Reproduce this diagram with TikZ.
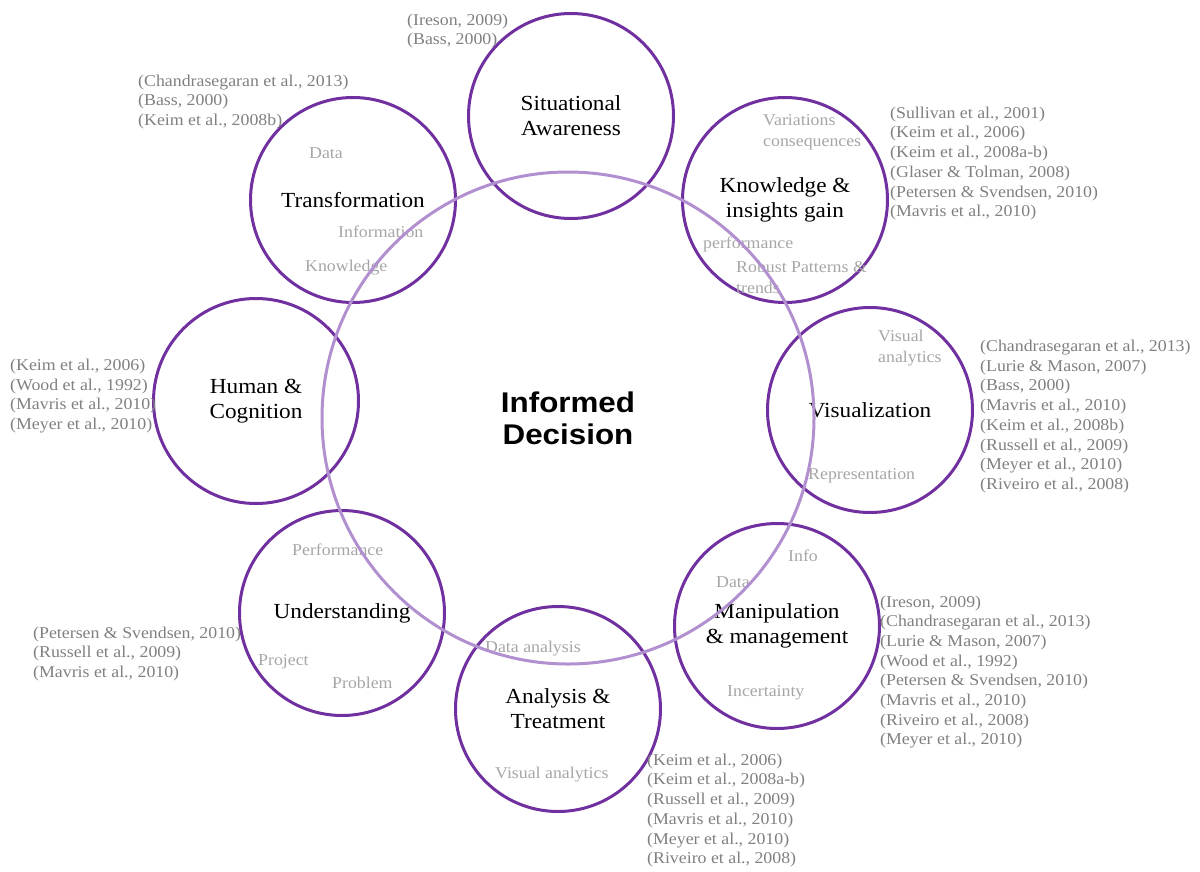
\documentclass[tikz,border=0pt]{standalone}
\usepackage{fontspec}
\setmainfont{Liberation Serif}[FakeStretch=1.08]
\newfontfamily\heavysans{Liberation Sans}[FakeStretch=1.1]
\definecolor{dpurple}{RGB}{112,48,160}
\definecolor{lpurple}{RGB}{178,144,208}
\definecolor{citegray}{RGB}{128,128,128}
\definecolor{innergray}{RGB}{166,166,166}
\begin{document}
\begin{tikzpicture}[x=1pt,y=-1pt,
  topic/.style={circle,draw=dpurple,line width=3pt,minimum size=205pt,inner sep=0pt,align=center,font=\fontsize{21.5}{25}\selectfont,text=black},
  cite/.style={anchor=west,align=left,inner sep=0pt,text=citegray,font=\fontsize{16.5}{19.7}\selectfont},
  inlab/.style={anchor=west,align=left,inner sep=0pt,text=innergray,font=\fontsize{16.5}{20.5}\selectfont},
  core/.style={circle,draw=lpurple,line width=3pt,minimum size=492pt,inner sep=0pt,align=center,text=black,font=\heavysans\bfseries\fontsize{28.5}{32}\selectfont}
]
\useasboundingbox (0,0) rectangle (1200,871);

% topic circles
\node[topic] (sa) at (571,116) {Situational\\Awareness};
\node[topic] (tr) at (353,200) {Transformation};
\node[topic] (kn) at (785,200) {Knowledge \&\\insights gain};
\node[topic] (hc) at (256,401) {Human \&\\Cognition};
\node[topic] (vi) at (870,410) {Visualization};
\node[topic] (un) at (342,613) {Understanding};
\node[topic] (an) at (558,709) {Analysis \&\\Treatment};
\node[topic] (mm) at (777,626) {Manipulation\\\& management};

% citations
\node[cite] (c-sa) at (407,31) {(Ireson, 2009)\\(Bass, 2000)};
\node[cite] (c-tr) at (138,102) {(Chandrasegaran et al., 2013)\\(Bass, 2000)\\(Keim et al., 2008b)};
\node[cite] (c-kn) at (890,163.5) {(Sullivan et al., 2001)\\(Keim et al., 2006)\\(Keim et al., 2008a-b)\\(Glaser \& Tolman, 2008)\\(Petersen \& Svendsen, 2010)\\(Mavris et al., 2010)};
\node[cite] (c-vi) at (980,416.5) {(Chandrasegaran et al., 2013)\\(Lurie \& Mason, 2007)\\(Bass, 2000)\\(Mavris et al., 2010)\\(Keim et al., 2008b)\\(Russell et al., 2009)\\(Meyer et al., 2010)\\(Riveiro et al., 2008)};
\node[cite] (c-hc) at (10,396) {(Keim et al., 2006)\\(Wood et al., 1992)\\(Mavris et al., 2010)\\(Meyer et al., 2010)};
\node[cite] (c-mm) at (880,672) {(Ireson, 2009)\\(Chandrasegaran et al., 2013)\\(Lurie \& Mason, 2007)\\(Wood et al., 1992)\\(Petersen \& Svendsen, 2010)\\(Mavris et al., 2010)\\(Riveiro et al., 2008)\\(Meyer et al., 2010)};
\node[cite] (c-an) at (647,810.5) {(Keim et al., 2006)\\(Keim et al., 2008a-b)\\(Russell et al., 2009)\\(Mavris et al., 2010)\\(Meyer et al., 2010)\\(Riveiro et al., 2008)};
\node[cite] (c-un) at (33,654) {(Petersen \& Svendsen, 2010)\\(Russell et al., 2009)\\(Mavris et al., 2010)};

% inner labels
\node[inlab] (t1) at (309,153) {Data};
\node[inlab] (t2) at (338,232) {Information};
\node[inlab] (t3) at (305,268) {Knowledge};
\node[inlab] (k1) at (763,132.5) {Variations\\consequences};
\node[inlab] (k2) at (703,244) {performance};
\node[inlab] (k3) at (736,277.5) {Robust Patterns \&\\trends};
\node[inlab] (v1) at (878,348) {Visual\\analytics};
\node[inlab] (v2) at (808,476) {Representation};
\node[inlab] (m1) at (788,556) {Info};
\node[inlab] (m2) at (716,582) {Data};
\node[inlab] (m3) at (727,693) {Incertainty};
\node[inlab] (a1) at (485,649) {Data analysis};
\node[inlab] (a2) at (495,775) {Visual analytics};
\node[inlab] (u1) at (292,550) {Performance};
\node[inlab] (u2) at (258,662) {Project};
\node[inlab] (u3) at (332,683) {Problem};

% central circle
\node[core] (id) at (568,418) {Informed\\Decision};
\end{tikzpicture}
\end{document}
